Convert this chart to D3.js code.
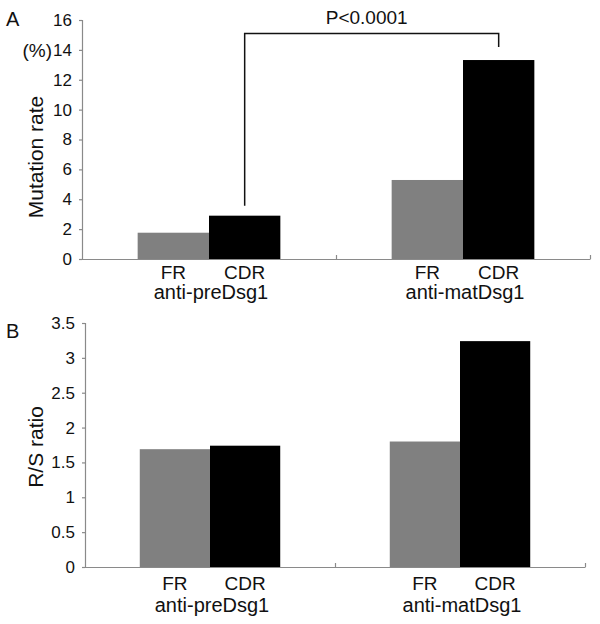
<!DOCTYPE html>
<html><head><meta charset="utf-8">
<script src="https://cdn.jsdelivr.net/npm/d3@7"></script>
<style>body{margin:0;background:#fff}svg{display:block}text{font-family:"Liberation Sans",Arial,Helvetica,sans-serif;fill:#111}</style>
</head><body><svg id="c" width="600" height="624"></svg>
<script>
const groups = ["anti-preDsg1", "anti-matDsg1"];
const regions = ["FR", "CDR"];
const mutationRate = [[1.76, 2.9], [5.29, 13.32]];
const rsRatio = [[1.69, 1.74], [1.80, 3.24]];
const ticksA = [0, 2, 4, 6, 8, 10, 12, 14, 16];
const ticksB = [0, 0.5, 1, 1.5, 2, 2.5, 3, 3.5];
const pLabel = "P<0.0001";
const colors = {FR: "#808080", CDR: "#000000"};

const svg = d3.select("#c");
const axisCol = "#8a8a8a";

function panel(cfg) {
  const g = svg.append("g");
  const y = d3.scaleLinear().domain([0, cfg.max]).range([cfg.y0, cfg.y1]);
  const x0 = d3.scaleBand().domain(groups).range([cfg.x0, cfg.x1]).padding(0);
  const x1 = d3.scaleBand().domain(regions).range([0, x0.bandwidth()]).paddingInner(0).paddingOuter(0.78);
  // y axis
  const ya = g.append("g").attr("transform", `translate(${cfg.x0},0)`)
    .call(d3.axisLeft(y).tickValues(cfg.ticks).tickSize(3).tickPadding(7).tickFormat(d => String(d)));
  ya.select(".domain").attr("stroke", axisCol).attr("stroke-width", 1.2);
  ya.selectAll(".tick line").attr("stroke", axisCol).attr("stroke-width", 1.2);
  ya.selectAll(".tick text").attr("font-size", 17).attr("fill", "#111")
    .attr("font-family", '"Liberation Sans",Arial,sans-serif');
  // bars
  groups.forEach((gr, gi) => {
    regions.forEach((r, ri) => {
      g.append("rect")
        .attr("x", x0(gr) + x1(r)).attr("width", x1.bandwidth())
        .attr("y", y(cfg.data[gi][ri])).attr("height", y(0) - y(cfg.data[gi][ri]))
        .attr("fill", colors[r]);
      g.append("text").attr("x", x0(gr) + x1(r) + x1.bandwidth() / 2).attr("y", cfg.catY)
        .attr("text-anchor", "middle").attr("font-size", 19).text(r);
    });
    g.append("text").attr("x", x0(gr) + x0.bandwidth() / 2 + 2).attr("y", cfg.grpY)
      .attr("text-anchor", "middle").attr("font-size", 20).text(gr);
  });
  // x axis with boundary ticks pointing up
  const xa = g.append("g").attr("transform", `translate(0,${y(0)})`)
    .call(d3.axisBottom(d3.scaleLinear().domain([cfg.x0, cfg.x1]).range([cfg.x0, cfg.x1]))
      .tickValues([x0(groups[1]), cfg.x1]).tickSize(-4).tickSizeOuter(0).tickFormat(""));
  xa.select(".domain").attr("stroke", axisCol).attr("stroke-width", 1.2);
  xa.selectAll(".tick line").attr("stroke", axisCol).attr("stroke-width", 1.2);
  // titles
  g.append("text").attr("transform", `translate(43,${cfg.titleY}) rotate(-90)`)
    .attr("text-anchor", "middle").attr("font-size", 21).text(cfg.title);
  g.append("text").attr("x", 6).attr("y", cfg.letterY).attr("font-size", 20).text(cfg.letter);
  return {x0, x1, y};
}

const A = panel({max: 16, y0: 259, y1: 20, x0: 82, x1: 590, ticks: ticksA, data: mutationRate,
  catY: 279, grpY: 299, title: "Mutation rate", titleY: 157, letter: "A", letterY: 26});
const B = panel({max: 3.5, y0: 567, y1: 323, x0: 85, x1: 585, ticks: ticksB, data: rsRatio,
  catY: 590, grpY: 612, title: "R/S ratio", titleY: 447, letter: "B", letterY: 338});

// (%) unit label next to 14 tick
svg.append("text").attr("x", 52).attr("y", A.y(14) + 7).attr("text-anchor", "end")
  .attr("font-size", 19).text("(%)");

// significance bracket
const lx = A.x0(groups[0]) + A.x1("CDR") + A.x1.bandwidth() / 2;
const rx = A.x0(groups[1]) + A.x1("CDR") + A.x1.bandwidth() / 2;
const by = A.y(15.1);
svg.append("path")
  .attr("d", `M${lx},${A.y(mutationRate[0][1]) - 10}V${by}H${rx}V${A.y(mutationRate[1][1]) - 13}`)
  .attr("fill", "none").attr("stroke", "#111").attr("stroke-width", 1.5);
svg.append("text").attr("x", (lx + rx) / 2 - 5).attr("y", 24).attr("text-anchor", "middle")
  .attr("font-size", 19).text(pLabel);
</script></body></html>
